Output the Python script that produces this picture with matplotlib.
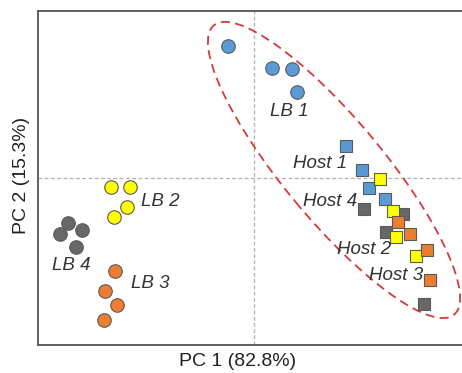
import numpy as np
import matplotlib
matplotlib.use("Agg")
import matplotlib.pyplot as plt
from matplotlib.patches import Ellipse

plt.rcParams['font.family'] = ['Liberation Sans', 'DejaVu Sans']

# PCA scores (PC1, PC2)
lb1_x = [-0.52, 0.36, 0.76, 0.86]
lb1_y = [2.64, 2.20, 2.18, 1.72]
lb2_x = [-2.86, -2.48, -2.54, -2.80]
lb2_y = [-0.18, -0.18, -0.58, -0.78]
lb3_x = [-2.78, -2.98, -2.74, -3.00]
lb3_y = [-1.86, -2.26, -2.54, -2.84]
lb4_x = [-3.72, -3.88, -3.44, -3.56]
lb4_y = [-0.90, -1.12, -1.04, -1.38]

host1_x = [1.84, 2.16, 2.30, 2.62]
host1_y = [0.64, 0.16, -0.20, -0.42]
host2_x = [2.52, 2.78, 2.84, 3.24]
host2_y = [-0.02, -0.66, -1.18, -1.56]
host3_x = [2.88, 3.12, 3.46, 3.52]
host3_y = [-0.88, -1.12, -1.44, -2.04]
host4_x = [2.20, 2.98, 2.64, 3.40]
host4_y = [-0.62, -0.72, -1.08, -2.52]

blue = '#5b9bd5'
yellow = '#ffff00'
orange = '#ed7d31'
gray = '#676767'
edge = '#5a5a5a'

fig = plt.figure(figsize=(4.62, 3.73), dpi=100)
ax = fig.add_axes([38 / 462, 28 / 373, 424 / 462, 334 / 373])

ax.axvline(0, color='#b0b0b0', lw=0.9, ls=(0, (3, 2)), zorder=1)
ax.axhline(0, color='#b0b0b0', lw=0.9, ls=(0, (3, 2)), zorder=1)

# circles = LB samples
for xs, ys, c in [(lb1_x, lb1_y, blue), (lb4_x, lb4_y, gray),
                  (lb2_x, lb2_y, yellow), (lb3_x, lb3_y, orange)]:
    ax.scatter(xs, ys, s=95, marker='o', color=c, edgecolor=edge, linewidth=0.8, zorder=3)

# squares = host samples
for xs, ys, c in [(host1_x, host1_y, blue), (host4_x, host4_y, gray),
                  (host2_x, host2_y, yellow), (host3_x, host3_y, orange)]:
    ax.scatter(xs, ys, s=80, marker='s', color=c, edgecolor=edge, linewidth=0.8, zorder=3)

ell = Ellipse((1.60, 0.16), 7.52, 2.0, angle=-50.3, fill=False,
              edgecolor='#d43a3c', lw=1.3, ls=(0, (5, 3)), zorder=2)
ax.add_patch(ell)

lab = dict(fontsize=13.5, style='italic', color='#333333', va='center', zorder=4)
ax.text(0.70, 1.32, 'LB 1', ha='center', **lab)
ax.text(-2.26, -0.48, 'LB 2', ha='left', **lab)
ax.text(-2.08, -2.12, 'LB 3', ha='center', **lab)
ax.text(-3.66, -1.74, 'LB 4', ha='center', **lab)
ax.text(1.86, 0.30, 'Host 1', ha='right', **lab)
ax.text(2.74, -1.42, 'Host 2', ha='right', **lab)
ax.text(3.38, -1.94, 'Host 3', ha='right', **lab)
ax.text(2.06, -0.48, 'Host 4', ha='right', **lab)

ax.set_xlim(-4.32, 4.16)
ax.set_ylim(-3.34, 3.34)
ax.set_xticks([])
ax.set_yticks([])
for s in ['left', 'top', 'bottom']:
    ax.spines[s].set_color('#555555')
    ax.spines[s].set_linewidth(1.3)
ax.spines['right'].set_visible(False)

fig.text(238 / 462, 1 - 361 / 373, 'PC 1 (82.8%)', fontsize=14, color='#222222',
         ha='center', va='center')
fig.text(22 / 462, 1 - 175 / 373, 'PC 2 (15.3%)', fontsize=14, color='#222222',
         ha='center', va='center', rotation=90)

fig.savefig('out.png', dpi=100)
